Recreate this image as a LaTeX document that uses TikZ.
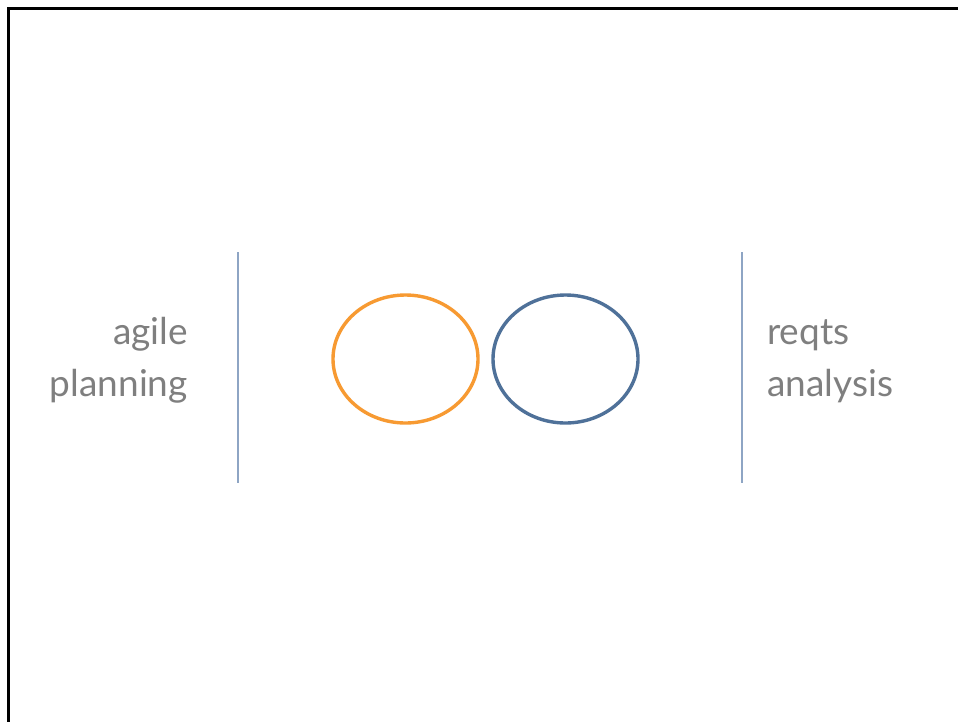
\documentclass[tikz,border=0pt]{standalone}
\usepackage{fontspec}
\setmainfont{Lato}
\usetikzlibrary{shapes.geometric}
\definecolor{txtgray}{HTML}{7F7F7F}
\definecolor{orng}{HTML}{F79A32}
\definecolor{bluec}{HTML}{4F7199}
\definecolor{sepc}{HTML}{8EA5C4}
\begin{document}
\begin{tikzpicture}[x=1pt,y=-1pt,
  lbl/.style={text=txtgray,font=\fontsize{37}{50}\selectfont,inner sep=0pt},
  sep/.style={draw=sepc,line width=1.6pt},
  ring/.style={ellipse,minimum width=145pt,minimum height=128pt,line width=3.4pt,inner sep=0pt}]
\useasboundingbox (0,0) rectangle (958,721);
\fill[white] (0,0) rectangle (958,721);
\draw[line width=3pt,black] (8,730) -- (8,8) -- (970,8);
\coordinate (s1t) at (238,252); \coordinate (s1b) at (238,483);
\coordinate (s2t) at (742,252); \coordinate (s2b) at (742,483);
\draw[sep] (s1t) -- (s1b);
\draw[sep] (s2t) -- (s2b);
\node[ring,draw=orng] (o) at (405.5,359) {};
\node[ring,draw=bluec] (b) at (565.5,359) {};
\node[lbl,anchor=base east] (l1) at (188,344) {agile};
\node[lbl,anchor=base east] (l2) at (188,396) {planning};
\node[lbl,anchor=base west] (r1) at (767,344) {reqts};
\node[lbl,anchor=base west] (r2) at (767,396) {analysis};
\end{tikzpicture}
\end{document}
